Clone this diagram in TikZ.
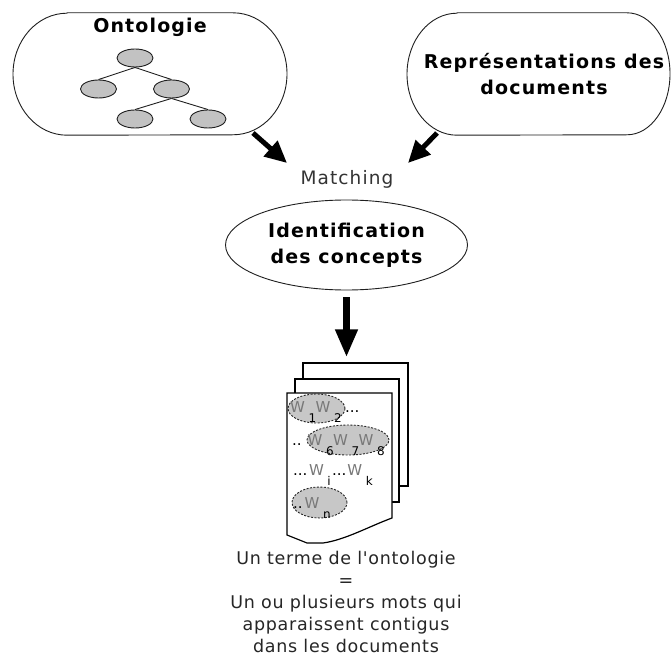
\documentclass[tikz,border=0pt]{standalone}
\usepackage{fontspec}
\setmainfont{DejaVu Sans}
\newfontfamily\titlefont[LetterSpace=6]{DejaVu Sans}
\newfontfamily\notefont[LetterSpace=6]{DejaVu Sans}
\newfontfamily\capfont[LetterSpace=4,Ligatures=TeXOff]{DejaVu Sans}
\newfontfamily\wordfont{DejaVu Sans}
\usetikzlibrary{arrows.meta,shapes.geometric,calc}
\definecolor{leaf}{gray}{0.76}
\definecolor{hilite}{gray}{0.78}
\definecolor{wordgray}{gray}{0.47}
\definecolor{ink}{gray}{0.12}
% a word W with its index set low on the right
\newcommand\wsub[1]{{\color{wordgray}W}\kern3.5pt\raisebox{-10pt}{\fontsize{12}{12}\selectfont#1}\kern-0.5pt}
\tikzset{
  outline/.style={draw=ink, line width=0.9pt},
  title/.style={font=\titlefont\bfseries\fontsize{19}{26}\selectfont, inner sep=0, align=center},
  note/.style={font=\notefont\fontsize{18.5}{22}\selectfont, text=black!80, inner sep=0},
  caption/.style={font=\capfont\fontsize{17.5}{22}\selectfont, text=black!85, inner sep=0, align=center},
  treenode/.style={ellipse, draw=ink, line width=0.9pt, fill=leaf, minimum width=36, minimum height=18, inner sep=0},
  treeedge/.style={draw=ink, line width=0.9pt},
  fatarrow/.style={line width=5pt, -{Triangle[length=22pt,width=20pt]}},
  droparrow/.style={line width=7pt, -{Triangle[length=28pt,width=21pt]}},
  sheet/.style={draw=black, line width=1.2pt, fill=white, inner sep=0},
  termzone/.style={ellipse, draw=black!85, fill=hilite, line width=0.9pt, dash pattern=on 2pt off 1.5pt, inner sep=0},
  words/.style={font=\wordfont\fontsize{15}{15}\selectfont, inner sep=0, anchor=base west},
}
\begin{document}
\begin{tikzpicture}[x=1pt, y=1pt]
\useasboundingbox (0,0) rectangle (671,657);
\fill[white] (0,0) rectangle (671,657);

% ontology frame
\node[minimum width=274, minimum height=122, inner sep=0] (onto) at (150,583) {};
\draw[outline] ([xshift=-83pt]onto.north) -- ([xshift=83pt]onto.north)
  arc[start angle=90, end angle=-90, x radius=54, y radius=61]
  -- ([xshift=-83pt]onto.south)
  arc[start angle=270, end angle=90, x radius=54, y radius=61] -- cycle;
\node[title, anchor=base] (ontotitle) at (150,624) {Ontologie};

% small tree
\node[treenode] (t0) at (135,599) {};
\node[treenode] (t1) at (98.5,568) {};
\node[treenode] (t2) at (171.5,568) {};
\node[treenode] (t3) at (135,538) {};
\node[treenode] (t4) at (208,538) {};
\draw[treeedge] (t0.south) -- (t1.north);
\draw[treeedge] (t0.south) -- (t2.north);
\draw[treeedge] (t2.south) -- (t3.north);
\draw[treeedge] (t2.south) -- (t4.north);

% document representations frame
\node[minimum width=263, minimum height=122, inner sep=0] (repr) at (538.5,583) {};
\draw[outline] ([xshift=-81.5pt]repr.north) -- ([xshift=88.5pt]repr.north)
  arc[start angle=90, end angle=-90, x radius=43, y radius=61]
  -- ([xshift=-81.5pt]repr.south)
  arc[start angle=270, end angle=90, x radius=50, y radius=61] -- cycle;
\node[title] (reprtitle) at (544,582.5) {Représentations des\\documents};

% matching
\node[note, anchor=base] (match) at (347,472) {Matching};
\coordinate (ontoOut) at (253,524);
\coordinate (matchL) at (287,494);
\coordinate (reprOut) at (437,524);
\coordinate (matchR) at (408,494);
\draw[fatarrow] (ontoOut) -- (matchL);
\draw[fatarrow] (reprOut) -- (matchR);

% concept identification
\node[ellipse, outline, minimum width=242, minimum height=90, title] (ident) at (346.5,412) {Identification\\des concepts};

% stack of documents
\node[sheet, minimum width=105, minimum height=123] (back) at (355.5,232.5) {};
\node[sheet, minimum width=104, minimum height=123] (middle) at (347,216.5) {};
\draw[sheet] (287,264) -- (392,264) -- (392,139)
  .. controls (370,131) and (345,117) .. (323,114) -- (307,114) -- (287,122) -- cycle;
\coordinate (front) at (339.5,264);

\draw[droparrow, shorten <=7pt, shorten >=5pt] (ident.south) -- (ident.south |- back.north);

% highlighted terms
\node[termzone, minimum width=57, minimum height=29] (g1) at (316.5,248.5) {};
\node[termzone, minimum width=82, minimum height=30] (g2) at (348,217) {};
\node[termzone, minimum width=55, minimum height=31] (g3) at (319.5,154.5) {};

\node[words] (row1) at (290,245) {\wsub{1}\wsub{2}\kern4pt...};
\node[words] (row2) at (292,212) {..\kern6pt\wsub{6}\wsub{7}\wsub{8}};
\node[words] (row3) at (293,182) {...\kern1.5pt\wsub{i}\kern2pt...\kern1pt\wsub{k}};
\node[words] (row4) at (293,149) {..\kern2pt\wsub{n}};

% caption
\node[caption, anchor=north] (legend) at (346,106)
  {Un terme de l'ontologie\\=\\Un ou plusieurs mots qui\\apparaissent contigus\\dans les documents};
\end{tikzpicture}
\end{document}
